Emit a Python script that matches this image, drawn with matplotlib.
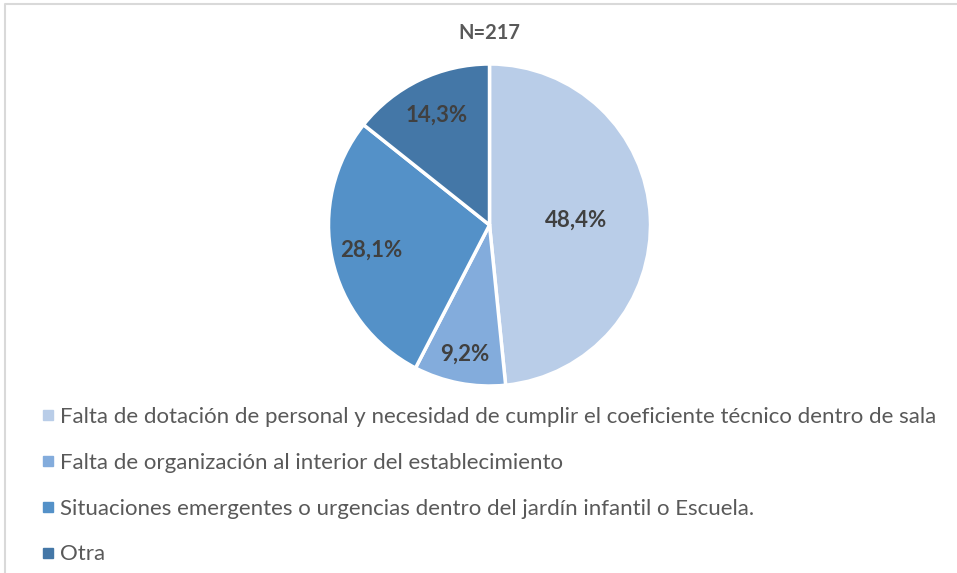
import matplotlib
matplotlib.use("Agg")
import matplotlib.pyplot as plt
from matplotlib.lines import Line2D
import numpy as np

categories = [
    "Falta de dotación de personal y necesidad de cumplir el coeficiente técnico dentro de sala",
    "Falta de organización al interior del establecimiento",
    "Situaciones emergentes o urgencias dentro del jardín infantil o Escuela.",
    "Otra",
]
values = [48.4, 9.2, 28.1, 14.3]
labels = ["48,4%", "9,2%", "28,1%", "14,3%"]
title = "N=217"

colors = ["#B9CDE8", "#83ACDC", "#5491C8", "#4477A7"]
label_dist = [0.54, 0.82, 0.75, 0.76]

W, H = 957, 573
fig = plt.figure(figsize=(W / 100, H / 100), dpi=100)
ax = fig.add_axes([0, 0, 1, 1])

cx, cy, r = 489.5, H - 225, 161
wedges, _ = ax.pie(values, colors=colors, startangle=90, counterclock=False,
                   center=(cx, cy), radius=r, frame=True,
                   wedgeprops=dict(edgecolor="white", linewidth=2.5))
ax.set_xlim(0, W)
ax.set_ylim(0, H)
ax.set_aspect("equal")
ax.axis("off")

for w, lab, d in zip(wedges, labels, label_dist):
    ang = np.deg2rad((w.theta1 + w.theta2) / 2)
    ax.text(cx + d * r * np.cos(ang), cy + d * r * np.sin(ang), lab,
            ha="center", va="center", fontsize=16, fontweight="bold",
            color="#404040", family="Lato")

ax.text(cx, H - 33, title, ha="center", va="center", fontsize=14.5,
        fontweight="bold", color="#595959", family="Lato")

# border
ax.plot([4.5, 4.5, W], [0, H - 3.5, H - 3.5], color="#D9D9D9", lw=1.5,
        solid_capstyle="butt")

handles = [Line2D([], [], marker="s", linestyle="none", markersize=7,
                  markerfacecolor=c, markeredgecolor=c) for c in colors]
leg = fig.legend(handles, categories, loc="upper left",
                 bbox_to_anchor=(42 / W, 1 - 407 / H), frameon=False,
                 prop=dict(family="Lato", size=16), labelcolor="#595959",
                 handlelength=0.55, handletextpad=0.27, labelspacing=1.16,
                 borderaxespad=0, borderpad=0)

fig.savefig("out.png", dpi=100)
